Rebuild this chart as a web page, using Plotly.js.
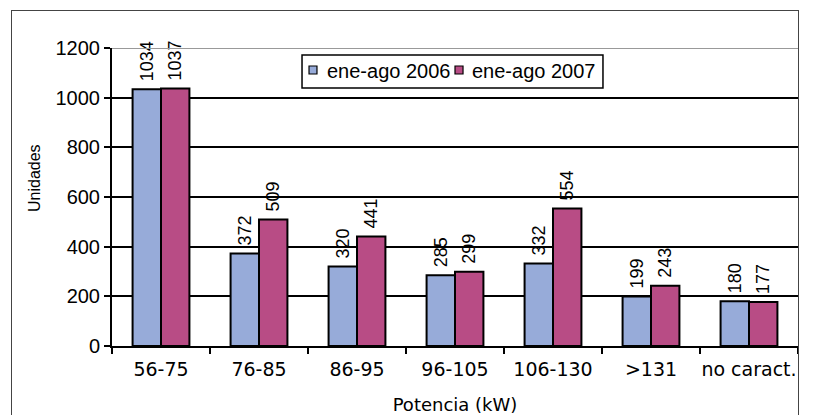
<!DOCTYPE html>
<html>
<head>
<meta charset="utf-8">
<script src="https://cdn.plot.ly/plotly-3.0.1.min.js"></script>
<style>
html,body{margin:0;padding:0;background:#fff;}
#wrap{position:relative;width:824px;height:415px;}
#chart{width:824px;height:415px;}
#frame{position:absolute;left:11px;top:10px;width:786px;height:420px;border:1.5px solid #444;pointer-events:none;}
</style>
</head>
<body>
<div id="wrap">
<div id="chart"></div>
<div id="frame"></div>
</div>
<script>
const categories = ["56-75", "76-85", "86-95", "96-105", "106-130", ">131", "no caract."];
const series2006 = [1034, 372, 320, 285, 332, 199, 180];
const series2007 = [1037, 509, 441, 299, 554, 243, 177];
const seriesNames = ["ene-ago 2006", "ene-ago 2007"];
const seriesColors = ["#97ABD9", "#B84C85"];
const yTicks = [0, 200, 400, 600, 800, 1000, 1200];
const yTitle = "Unidades";
const xTitle = "Potencia (kW)";

const labelFont = {family: "Liberation Sans, Arial, sans-serif", size: 18, color: "#000"};
const legendFont = {family: "Liberation Sans, Arial, sans-serif", size: 20, color: "#000"};

function barTrace(name, values, color) {
  return {
    type: "bar",
    name: name,
    x: categories,
    y: values,
    marker: {color: color, line: {color: "#000", width: 2}},
    text: values.map(v => "\u00a0" + v),
    textposition: "outside",
    textangle: -90,
    constraintext: "none",
    textfont: labelFont,
    cliponaxis: false,
    showlegend: false,
    hoverinfo: "none"
  };
}

const data = [
  barTrace(seriesNames[0], series2006, seriesColors[0]),
  barTrace(seriesNames[1], series2007, seriesColors[1])
];

// legend box (plot area: x 112..798 px, y 48..346 px)
const legendBox = {x0: 0.2770, x1: 0.7157, y0: 0.8658, y1: 0.9765};
const legendSwatchX = [[0.2872, 0.2988], [0.5000, 0.5117]];
const legendSwatchY = [0.9128, 0.9396];
const legendTextX = [0.3110, 0.5220];
const legendTextY = 0.9228;

const shapes = [
  {type: "line", xref: "paper", yref: "y", x0: 0, x1: 1, y0: 1200, y1: 1200,
   line: {color: "#999", width: 2}, layer: "above"},
  {type: "rect", xref: "paper", yref: "paper", x0: legendBox.x0, x1: legendBox.x1, y0: legendBox.y0, y1: legendBox.y1,
   fillcolor: "#fff", line: {color: "#000", width: 1.5}, layer: "above"}
];
seriesColors.forEach((c, i) => {
  shapes.push({type: "rect", xref: "paper", yref: "paper",
    x0: legendSwatchX[i][0], x1: legendSwatchX[i][1], y0: legendSwatchY[0], y1: legendSwatchY[1],
    fillcolor: c, line: {color: "#000", width: 1.2}, layer: "above"});
});

const annotations = seriesNames.map((n, i) => ({
  xref: "paper", yref: "paper", x: legendTextX[i], y: legendTextY,
  xanchor: "left", yanchor: "middle", showarrow: false,
  text: n, font: legendFont
}));
annotations.push({
  xref: "paper", yref: "paper", x: -0.1122, y: 0.5638,
  xanchor: "center", yanchor: "middle", showarrow: false, textangle: -90,
  text: yTitle, font: {family: "Liberation Sans, Arial, sans-serif", size: 16, color: "#000"}
});

const layout = {
  width: 824,
  height: 415,
  margin: {l: 112, r: 26, t: 48, b: 69},
  paper_bgcolor: "#fff",
  plot_bgcolor: "#fff",
  barmode: "group",
  bargap: 0.42,
  bargroupgap: 0,
  showlegend: false,
  xaxis: {
    type: "category",
    showline: true, linecolor: "#000", linewidth: 2,
    ticks: "outside", tickson: "boundaries", ticklen: 6, tickwidth: 2, tickcolor: "#000",
    tickangle: 0,
    ticklabelstandoff: 5,
    tickfont: {family: "DejaVu Sans, Verdana, sans-serif", size: 19, color: "#000"},
    showgrid: false,
    title: {text: xTitle, font: {family: "DejaVu Sans, Verdana, sans-serif", size: 18, color: "#000"}, standoff: 22}
  },
  yaxis: {
    range: [0, 1200],
    tickvals: yTicks,
    ticktext: yTicks.map(String),
    showline: true, linecolor: "#000", linewidth: 2,
    ticks: "outside", ticklen: 6, tickwidth: 2, tickcolor: "#000",
    tickfont: {family: "Liberation Sans, Arial, sans-serif", size: 20, color: "#000"},
    showgrid: true, gridcolor: "#000", gridwidth: 2,
    zeroline: false
  },
  shapes: shapes,
  annotations: annotations
};

Plotly.newPlot("chart", data, layout, {displayModeBar: false, staticPlot: true});
</script>
</body>
</html>
